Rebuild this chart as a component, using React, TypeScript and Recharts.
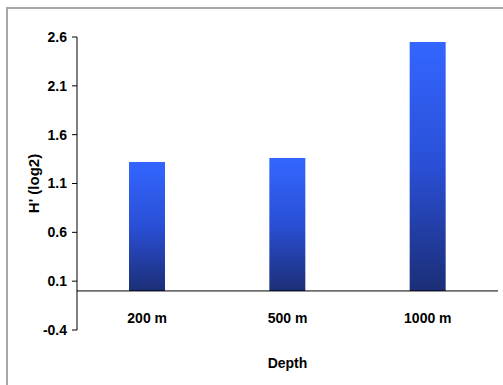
import React from "react";
import { BarChart, Bar, XAxis, YAxis, ReferenceLine } from "recharts";

const categories = ["200 m", "500 m", "1000 m"];
const diversity = [1.32, 1.36, 2.55];
const yTicks = [-0.4, 0.1, 0.6, 1.1, 1.6, 2.1, 2.6];

const data = categories.map((c, i) => ({ depth: c, h: diversity[i] }));

const FONT = "'Liberation Sans', Arial, sans-serif";

const XTick = (props: any) => {
  const { x, y, payload } = props;
  return (
    <text
      x={x}
      y={y - 12}
      textAnchor="middle"
      dominantBaseline="central"
      fontFamily={FONT}
      fontWeight="bold"
      fontSize={14}
      fill="#000"
    >
      {payload.value}
    </text>
  );
};

const YLabel = (props: any) => {
  const { viewBox } = props;
  const cx = viewBox.x + 33;
  const cy = viewBox.y + viewBox.height / 2;
  return (
    <text
      x={cx}
      y={cy}
      transform={`rotate(-90, ${cx}, ${cy})`}
      textAnchor="middle"
      dominantBaseline="central"
      fontFamily={FONT}
      fontWeight="bold"
      fontSize={15}
      fill="#000"
    >
      H' (log2)
    </text>
  );
};

const XLabel = (props: any) => {
  const { viewBox } = props;
  const cx = viewBox.x + viewBox.width / 2;
  return (
    <text
      x={cx}
      y={viewBox.y + 33}
      textAnchor="middle"
      dominantBaseline="central"
      fontFamily={FONT}
      fontWeight="bold"
      fontSize={14}
      fill="#000"
    >
      Depth
    </text>
  );
};

export default function App() {
  return (
    <div
      style={{
        position: "fixed",
        left: 0,
        top: 0,
        width: 503,
        height: 385,
        background: "#fff",
        overflow: "hidden",
      }}
    >
      <div
        style={{
          position: "absolute",
          left: 6,
          top: 7,
          width: 600,
          height: 500,
          borderTop: "2px solid #a8a8a8",
          borderLeft: "2px solid #a8a8a8",
        }}
      />
      <div style={{ position: "absolute", left: 0, top: 0 }}>
        <BarChart
          width={503}
          height={385}
          data={data}
          margin={{ top: 37, right: 5, bottom: 0, left: 0 }}
          barSize={36}
        >
          <defs>
            <linearGradient id="barGrad" x1="0" y1="0" x2="0" y2="1">
              <stop offset="0%" stopColor="#3366FF" />
              <stop offset="50%" stopColor="#2a4fd6" />
              <stop offset="100%" stopColor="#1b2e76" />
            </linearGradient>
          </defs>
          <XAxis
            dataKey="depth"
            height={55}
            axisLine={false}
            tickLine={false}
            tickSize={0}
            tickMargin={0}
            tick={<XTick />}
            interval={0}
            label={<XLabel />}
          />
          <YAxis
            width={77}
            domain={[-0.4, 2.6]}
            ticks={yTicks}
            type="number"
            allowDataOverflow
            axisLine={{ stroke: "#000", strokeWidth: 1 }}
            tickLine={{ stroke: "#000", strokeWidth: 1 }}
            tickSize={5}
            tickMargin={5}
            tick={{ fontFamily: FONT, fontWeight: "bold", fontSize: 14, fill: "#000" }}
            tickFormatter={(v: number) => v.toFixed(1)}
            label={<YLabel />}
          />
          <ReferenceLine y={0} stroke="#000" strokeWidth={1} />
          <Bar dataKey="h" fill="url(#barGrad)" isAnimationActive={false} />
        </BarChart>
      </div>
    </div>
  );
}
